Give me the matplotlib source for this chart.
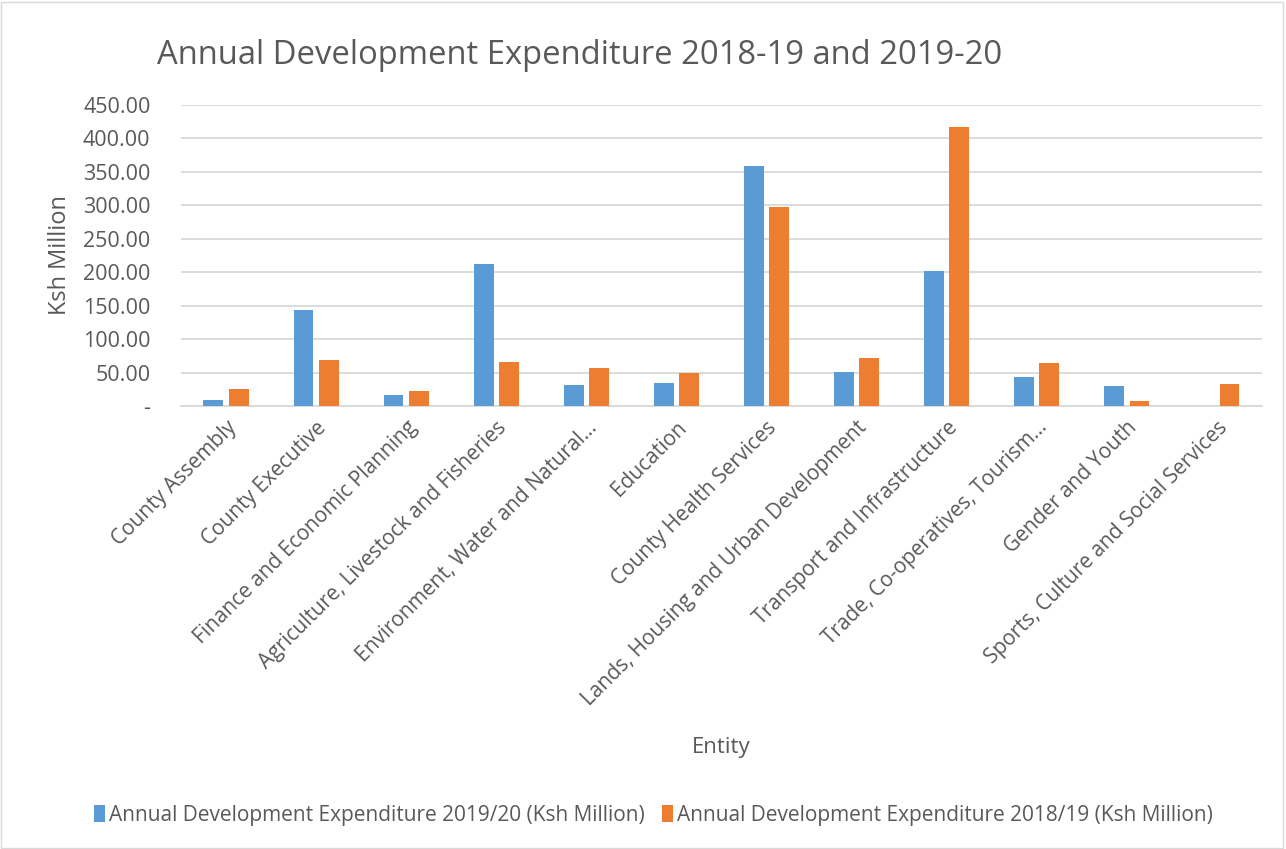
import matplotlib
matplotlib.use("Agg")
import matplotlib.pyplot as plt
import numpy as np
from matplotlib.patches import Rectangle

# data
entities = ["County Assembly", "County Executive", "Finance and Economic Planning",
            "Agriculture, Livestock and Fisheries", "Environment, Water and Natural\u2026",
            "Education", "County Health Services", "Lands, Housing and Urban Development",
            "Transport and Infrastructure", "Trade, Co-operatives, Tourism\u2026",
            "Gender and Youth", "Sports, Culture and Social Services"]
exp_2019_20 = [9.5, 143.0, 16.0, 213.0, 31.0, 34.0, 358.5, 50.5, 202.0, 43.0, 29.5, 0.0]
exp_2018_19 = [25.0, 68.5, 22.0, 66.5, 56.5, 50.0, 297.0, 71.5, 416.5, 65.0, 7.5, 33.5]
y_ticks = [0, 50, 100, 150, 200, 250, 300, 350, 400, 450]

grey = "#595959"
plt.rcParams["font.family"] = ["Open Sans", "DejaVu Sans"]

fig = plt.figure(figsize=(12.86, 8.49), dpi=100)
ax = fig.add_axes([0.1407, 0.5218, 0.8406, 0.3545])

x = np.arange(len(entities))
w = 0.22
ax.bar(x - 0.14, exp_2019_20, w, color="#5B9BD5",
       label="Annual Development Expenditure 2019/20 (Ksh Million)", zorder=3)
ax.bar(x + 0.14, exp_2018_19, w, color="#ED7D31",
       label="Annual Development Expenditure 2018/19 (Ksh Million)", zorder=3)

ax.set_xlim(-0.5, len(entities) - 0.5)
ax.set_ylim(0, 450)
ax.set_yticks(y_ticks)
ax.set_yticklabels(["-" if v == 0 else f"{v:.2f}" for v in y_ticks])
ax.grid(axis="y", color="#D9D9D9", linewidth=1.3, zorder=0)
for s in ["top", "right", "left"]:
    ax.spines[s].set_visible(False)
ax.spines["bottom"].set_color("#D9D9D9")
ax.spines["bottom"].set_linewidth(1.3)
ax.tick_params(axis="both", length=0, colors=grey)
ax.tick_params(axis="y", pad=22, labelsize=15.5)

ax.set_xticks(x)
ax.set_xticklabels(entities, rotation=45, ha="right", rotation_mode="anchor")
ax.tick_params(axis="x", pad=8, labelsize=15)

ax.set_ylabel("Ksh Million", fontsize=17, color=grey, labelpad=8)
ax.set_xlabel("Entity", fontsize=16, color=grey)
ax.xaxis.set_label_coords(0.5, -1.10)

fig.text(0.122, 0.935, "Annual Development Expenditure 2018-19 and 2019-20",
         fontsize=23.6, color=grey, va="center", ha="left")

ax.legend(loc="center", bbox_to_anchor=(0.437, -1.36), ncol=2, frameon=False,
          fontsize=15, labelcolor=grey, handlelength=0.55, handleheight=0.9,
          handletextpad=0.2, columnspacing=0.8)

fig.patches.append(Rectangle((0.001, 0.001), 0.997, 0.997, transform=fig.transFigure,
                             fill=False, edgecolor="#D9D9D9", linewidth=1))

fig.savefig("out.png", dpi=100)
